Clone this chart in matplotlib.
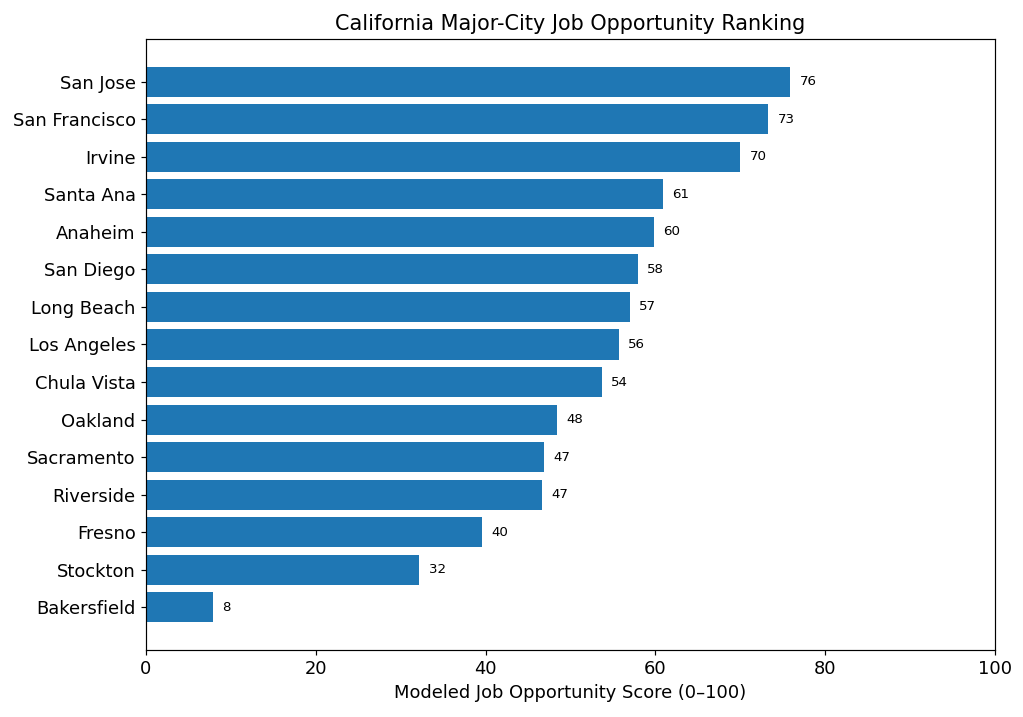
import matplotlib
matplotlib.use("Agg")
import matplotlib.pyplot as plt

cities = ["San Jose", "San Francisco", "Irvine", "Santa Ana", "Anaheim", "San Diego",
          "Long Beach", "Los Angeles", "Chula Vista", "Oakland", "Sacramento",
          "Riverside", "Fresno", "Stockton", "Bakersfield"]
scores = [75.9, 73.3, 70.0, 60.9, 59.8, 57.9, 57.0, 55.7, 53.7, 48.4, 46.9, 46.6, 39.6, 32.2, 7.9]

DPI = 107
fig, ax = plt.subplots(figsize=(1024 / DPI, 717 / DPI), dpi=DPI)
bars = ax.barh(cities, scores, color="#1f77b4")
ax.invert_yaxis()
for b, v in zip(bars, scores):
    ax.text(b.get_width() + 1.1, b.get_y() + b.get_height() / 2, f"{v:.0f}",
            va="center", ha="left", fontsize=9)
ax.set_xlim(0, 100)
ax.set_xlabel("Modeled Job Opportunity Score (0–100)", fontsize=12)
ax.set_title("California Major-City Job Opportunity Ranking", fontsize=14)
ax.tick_params(axis="both", labelsize=12)
fig.subplots_adjust(left=146 / 1024, right=995 / 1024, top=1 - 39 / 717, bottom=1 - 650 / 717)
fig.savefig("out.png", dpi=DPI)
